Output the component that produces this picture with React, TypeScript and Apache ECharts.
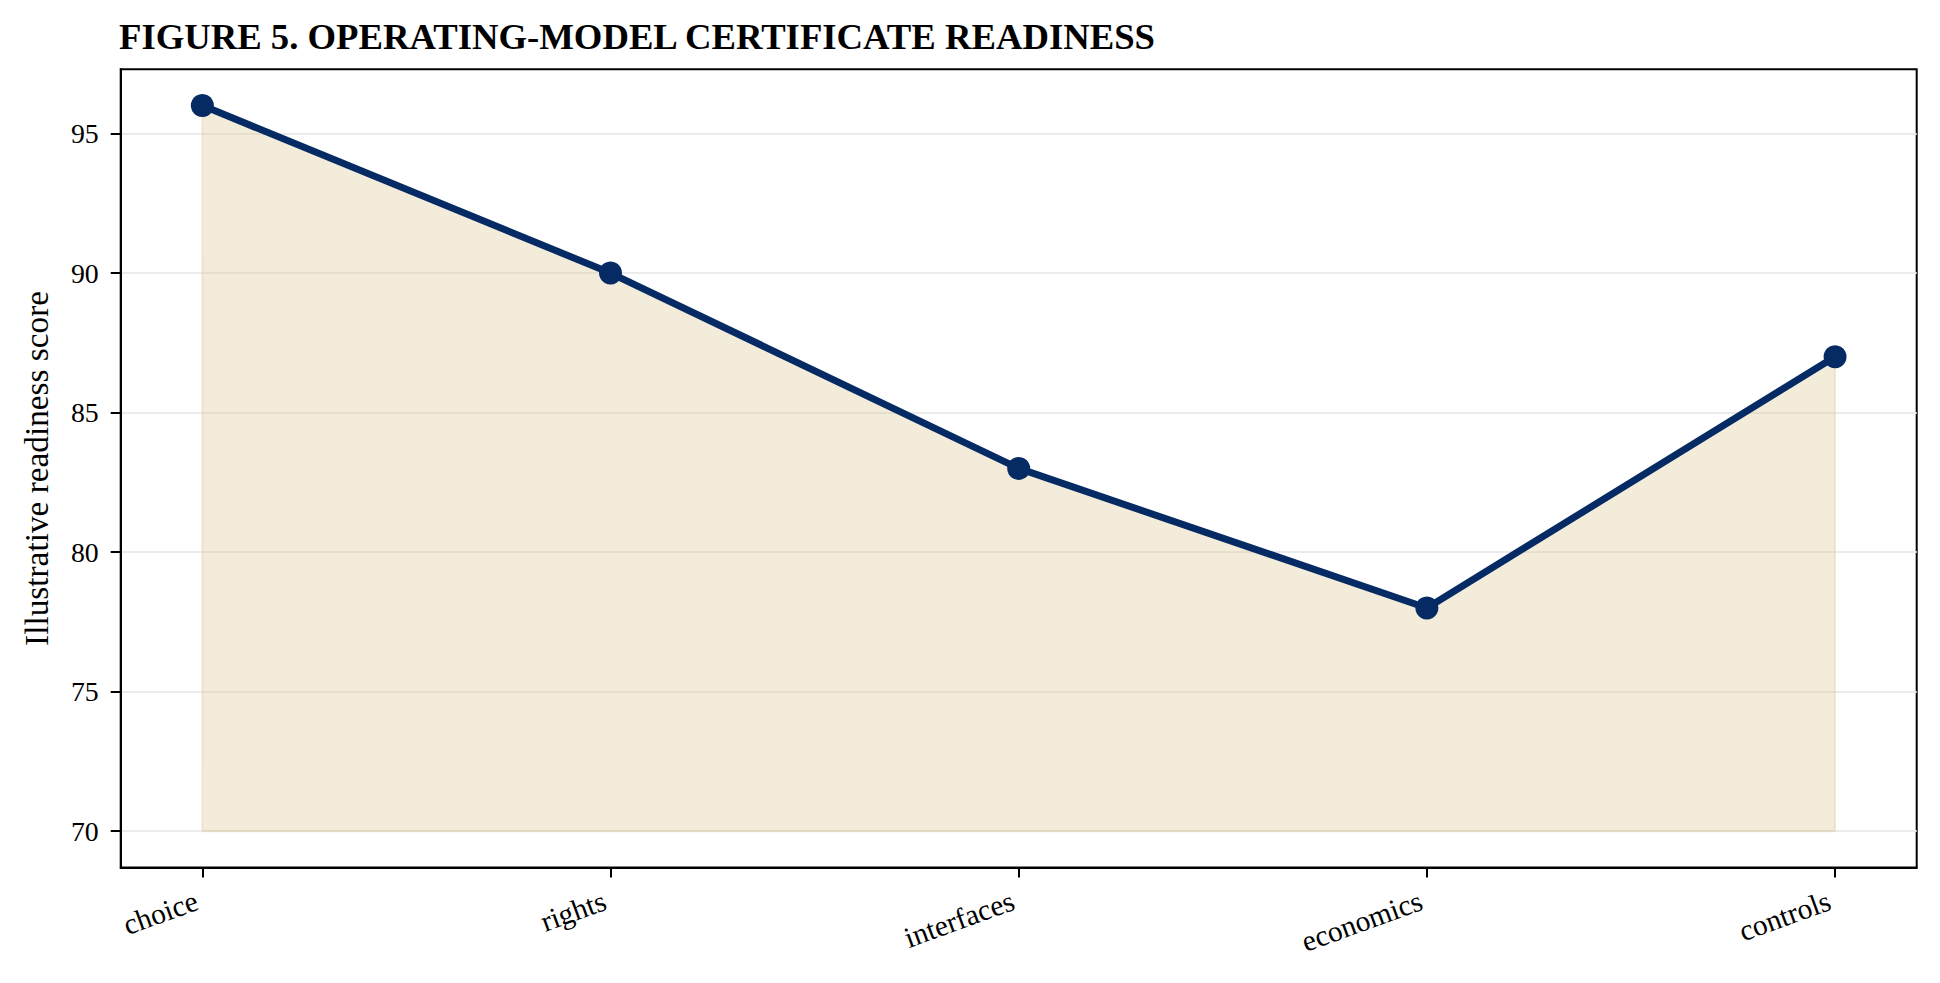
import React, { useEffect, useRef } from "react";
import * as echarts from "echarts";

const categories = ["choice", "rights", "interfaces", "economics", "controls"];
const scores = [96, 90, 83, 78, 87];
const yTicks = [70, 75, 80, 85, 90, 95];
const fillBase = 70;
const yRange = [68.7, 97.3];
const xRange = [-0.2, 4.2];

const FONT = '"Liberation Serif", "Times New Roman", serif';
const NAVY = "#062b64";
const TAN = "rgba(222,200,150,0.35)";

export default function App() {
  const ref = useRef<HTMLDivElement>(null);
  useEffect(() => {
    if (!ref.current) return;
    const chart = echarts.init(ref.current, undefined, { renderer: "svg" });
    const xIdx = categories.map((_, i) => i);
    const linePts = scores.map((v, i) => [i, v]);
    const outline = [
      [0, fillBase],
      ...linePts,
      [scores.length - 1, fillBase],
      [0, fillBase],
    ];
    chart.setOption({
      animation: false,
      backgroundColor: "#ffffff",
      title: {
        text: "FIGURE 5. OPERATING-MODEL CERTIFICATE READINESS",
        left: 119,
        top: 18,
        padding: 0,
        textStyle: {
          fontFamily: FONT,
          fontWeight: "bold",
          fontSize: 36.7,
          color: "#000",
        },
      },
      grid: {
        left: 120.7,
        top: 69.3,
        right: 23.3,
        bottom: 115.5,
        show: true,
        borderColor: "#000",
        borderWidth: 2,
        containLabel: false,
      },
      xAxis: {
        type: "value",
        min: xRange[0],
        max: xRange[1],
        axisLine: { show: true, onZero: false, lineStyle: { color: "#000", width: 2 } },
        axisTick: {
          show: true,
          customValues: xIdx,
          length: 10,
          inside: false,
          lineStyle: { color: "#000", width: 2 },
        },
        axisLabel: {
          customValues: xIdx,
          formatter: (v: number) => categories[Math.round(v)] ?? "",
          rotate: 20,
          margin: 30,
          padding: [0, 6, 0, 0],
          fontFamily: FONT,
          fontSize: 29.5,
          color: "#000",
        },
        splitLine: { show: false },
      },
      yAxis: {
        type: "value",
        min: yRange[0],
        max: yRange[1],
        name: "Illustrative readiness score",
        nameLocation: "middle",
        nameGap: 68,
        nameTextStyle: { fontFamily: FONT, fontSize: 33.3, color: "#000" },
        axisLine: { show: true, onZero: false, lineStyle: { color: "#000", width: 2 } },
        axisTick: {
          show: true,
          customValues: yTicks,
          length: 10,
          inside: false,
          lineStyle: { color: "#000", width: 2 },
        },
        axisLabel: {
          customValues: yTicks,
          margin: 22,
          fontFamily: FONT,
          fontSize: 27.8,
          color: "#000",
        },
        splitLine: {
          show: true,
          lineStyle: { color: "#ebebeb", width: 2 },
        },
      },
      series: [
        {
          type: "line",
          data: outline,
          symbol: "none",
          silent: true,
          z: 1,
          lineStyle: { color: TAN, width: 2 },
        },
        {
          type: "line",
          data: linePts,
          z: 3,
          symbol: "circle",
          symbolSize: 23,
          itemStyle: { color: NAVY },
          lineStyle: { color: NAVY, width: 7 },
          areaStyle: { color: TAN, opacity: 1, origin: fillBase },
        },
      ],
    });
    return () => chart.dispose();
  }, []);
  return (
    <div
      ref={ref}
      style={{ position: "absolute", left: 0, top: 0, width: 1940, height: 983 }}
    />
  );
}
